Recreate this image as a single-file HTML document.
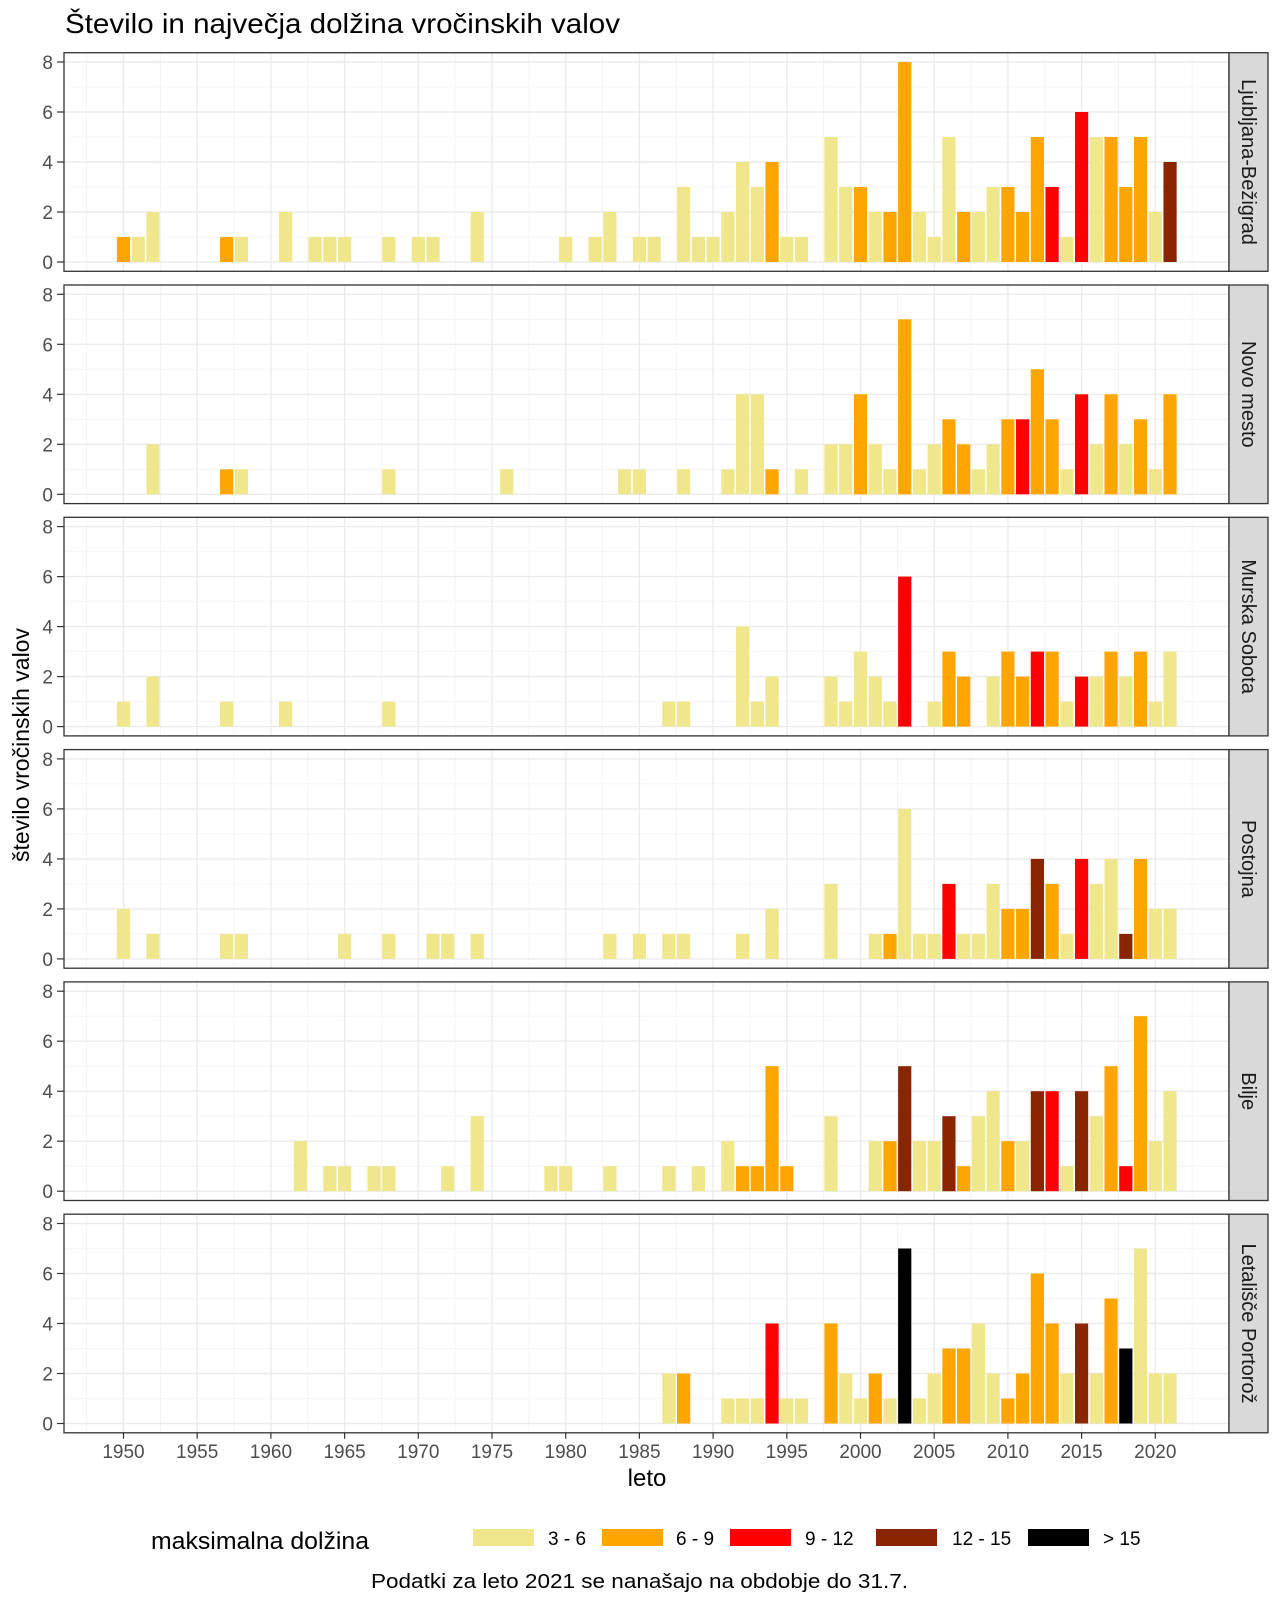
<!DOCTYPE html>
<html><head><meta charset="utf-8">
<style>
html,body{margin:0;padding:0;background:#fff;}
svg{display:block;font-family:"Liberation Sans",Arial,sans-serif;}
</style></head>
<body>
<svg id="s" width="1280" height="1600" viewBox="0 0 1280 1600" xmlns="http://www.w3.org/2000/svg">
<rect width="1280" height="1600" fill="#fff"/>
<text x="65" y="33" font-size="28" fill="#000" textLength="555" lengthAdjust="spacingAndGlyphs">Število in največja dolžina vročinskih valov</text>
<g id="panels"></g>
<g id="ylabels" font-size="19" fill="#4D4D4D" text-anchor="end">
</g>
<g font-size="20" fill="#1A1A1A">
<text transform="translate(1242,162) rotate(90)" text-anchor="middle">Ljubljana-Bežigrad</text>
<text transform="translate(1242,394.3) rotate(90)" text-anchor="middle">Novo mesto</text>
<text transform="translate(1242,626.6) rotate(90)" text-anchor="middle">Murska Sobota</text>
<text transform="translate(1242,858.9) rotate(90)" text-anchor="middle">Postojna</text>
<text transform="translate(1242,1091.2) rotate(90)" text-anchor="middle">Bilje</text>
<text transform="translate(1242,1323.5) rotate(90)" text-anchor="middle">Letališče Portorož</text>
</g>
<g font-size="19" fill="#4D4D4D" text-anchor="middle">
<text x="123.5" y="1458">1950</text><text x="197.2" y="1458">1955</text><text x="270.9" y="1458">1960</text><text x="344.6" y="1458">1965</text><text x="418.3" y="1458">1970</text><text x="492" y="1458">1975</text><text x="565.7" y="1458">1980</text><text x="639.4" y="1458">1985</text><text x="713.1" y="1458">1990</text><text x="786.8" y="1458">1995</text><text x="860.5" y="1458">2000</text><text x="934.2" y="1458">2005</text><text x="1007.9" y="1458">2010</text><text x="1081.6" y="1458">2015</text><text x="1155.3" y="1458">2020</text>
</g>
<text x="647" y="1486" font-size="24" text-anchor="middle" fill="#000">leto</text>
<text transform="translate(29,745) rotate(-90)" font-size="23" text-anchor="middle" fill="#000">število vročinskih valov</text>
<text x="151" y="1549" font-size="24" fill="#000" textLength="218" lengthAdjust="spacingAndGlyphs">maksimalna dolžina</text>
<g font-size="19" fill="#000">
<rect x="473" y="1529" width="61" height="17" fill="#F0E68C"/><text x="548" y="1545">3 - 6</text>
<rect x="602" y="1529" width="61" height="17" fill="#FFA500"/><text x="676" y="1545">6 - 9</text>
<rect x="730" y="1529" width="61" height="17" fill="#FF0000"/><text x="805" y="1545">9 - 12</text>
<rect x="876" y="1529" width="61" height="17" fill="#8B2500"/><text x="952" y="1545">12 - 15</text>
<rect x="1028" y="1529" width="61" height="17" fill="#000000"/><text x="1103" y="1545">&gt; 15</text>
</g>
<text x="371" y="1588" font-size="20" fill="#000" textLength="537" lengthAdjust="spacingAndGlyphs">Podatki za leto 2021 se nanašajo na obdobje do 31.7.</text>
</svg>
<script>
(function(){
var NS="http://www.w3.org/2000/svg";
var C={Y:"#F0E68C",O:"#FFA500",R:"#FF0000",B:"#8B2500",K:"#000000"};
var D=[
"1950O1 1951Y1 1952Y2 1957O1 1958Y1 1961Y2 1963Y1 1964Y1 1965Y1 1968Y1 1970Y1 1971Y1 1974Y2 1980Y1 1982Y1 1983Y2 1985Y1 1986Y1 1988Y3 1989Y1 1990Y1 1991Y2 1992Y4 1993Y3 1994O4 1995Y1 1996Y1 1998Y5 1999Y3 2000O3 2001Y2 2002O2 2003O8 2004Y2 2005Y1 2006Y5 2007O2 2008Y2 2009Y3 2010O3 2011O2 2012O5 2013R3 2014Y1 2015R6 2016Y5 2017O5 2018O3 2019O5 2020Y2 2021B4",
"1952Y2 1957O1 1958Y1 1968Y1 1976Y1 1984Y1 1985Y1 1988Y1 1991Y1 1992Y4 1993Y4 1994O1 1996Y1 1998Y2 1999Y2 2000O4 2001Y2 2002Y1 2003O7 2004Y1 2005Y2 2006O3 2007O2 2008Y1 2009Y2 2010O3 2011R3 2012O5 2013O3 2014Y1 2015R4 2016Y2 2017O4 2018Y2 2019O3 2020Y1 2021O4",
"1950Y1 1952Y2 1957Y1 1961Y1 1968Y1 1987Y1 1988Y1 1992Y4 1993Y1 1994Y2 1998Y2 1999Y1 2000Y3 2001Y2 2002Y1 2003R6 2005Y1 2006O3 2007O2 2009Y2 2010O3 2011O2 2012R3 2013O3 2014Y1 2015R2 2016Y2 2017O3 2018Y2 2019O3 2020Y1 2021Y3",
"1950Y2 1952Y1 1957Y1 1958Y1 1965Y1 1968Y1 1971Y1 1972Y1 1974Y1 1983Y1 1985Y1 1987Y1 1988Y1 1992Y1 1994Y2 1998Y3 2001Y1 2002O1 2003Y6 2004Y1 2005Y1 2006R3 2007Y1 2008Y1 2009Y3 2010O2 2011O2 2012B4 2013O3 2014Y1 2015R4 2016Y3 2017Y4 2018B1 2019O4 2020Y2 2021Y2",
"1962Y2 1964Y1 1965Y1 1967Y1 1968Y1 1972Y1 1974Y3 1979Y1 1980Y1 1983Y1 1987Y1 1989Y1 1991Y2 1992O1 1993O1 1994O5 1995O1 1998Y3 2001Y2 2002O2 2003B5 2004Y2 2005Y2 2006B3 2007O1 2008Y3 2009Y4 2010O2 2011Y2 2012B4 2013R4 2014Y1 2015B4 2016Y3 2017O5 2018R1 2019O7 2020Y2 2021Y4",
"1987Y2 1988O2 1991Y1 1992Y1 1993Y1 1994R4 1995Y1 1996Y1 1998O4 1999Y2 2000Y1 2001O2 2002Y1 2003K7 2004Y1 2005Y2 2006O3 2007O3 2008Y4 2009Y2 2010O1 2011O2 2012O6 2013O4 2014Y2 2015B4 2016Y2 2017O5 2018K3 2019Y7 2020Y2 2021Y2"
];
var g=document.getElementById("panels"), yl=document.getElementById("ylabels");
function el(t,a,p){var e=document.createElementNS(NS,t);for(var k in a)e.setAttribute(k,a[k]);(p||g).appendChild(e);return e;}
var L=64,R=1229,H=218.6;
function X(y){return 123.5+14.74*(y-1950);}
for(var i=0;i<6;i++){
 var top=52.7+232.3*i, y0=top+209.3;
 // minor y
 for(var v=1;v<8;v+=2) el("line",{x1:L,x2:R,y1:y0-v*25,y2:y0-v*25,stroke:"#F2F2F2","stroke-width":0.8});
 for(var yr=1947.5;yr<2025;yr+=5) el("line",{x1:X(yr),x2:X(yr),y1:top,y2:top+H,stroke:"#F2F2F2","stroke-width":0.8});
 for(var v=0;v<=8;v+=2){ el("line",{x1:L,x2:R,y1:y0-v*25,y2:y0-v*25,stroke:"#EBEBEB","stroke-width":1.4});
   el("line",{x1:57,x2:64,y1:y0-v*25,y2:y0-v*25,stroke:"#333","stroke-width":1.2});
   var t=el("text",{x:53,y:y0-v*25+7},yl); t.textContent=v; }
 for(var yr=1950;yr<=2025;yr+=5) el("line",{x1:X(yr),x2:X(yr),y1:top,y2:top+H,stroke:"#EBEBEB","stroke-width":1.4});
 D[i].split(" ").forEach(function(s){
   var yr=+s.slice(0,4),c=s[4],v=+s.slice(5);
   el("rect",{x:X(yr)-6.6,y:y0-v*25,width:13.2,height:v*25,fill:C[c]});
 });
 el("rect",{x:L,y:top,width:R-L,height:H,fill:"none",stroke:"#333","stroke-width":1.3});
 el("rect",{x:R,y:top,width:39,height:H,fill:"#D9D9D9",stroke:"#333","stroke-width":1.3});
}
var bot=52.7+232.3*5+H;
for(var yr=1950;yr<=2020;yr+=5) el("line",{x1:X(yr),x2:X(yr),y1:bot,y2:bot+6,stroke:"#333","stroke-width":1.2});
// move strip labels on top
var s=document.getElementById("s");
var labs=s.querySelectorAll("g[font-size='20']");
labs.forEach(function(n){s.appendChild(n);});
})();
</script>
</body></html>
